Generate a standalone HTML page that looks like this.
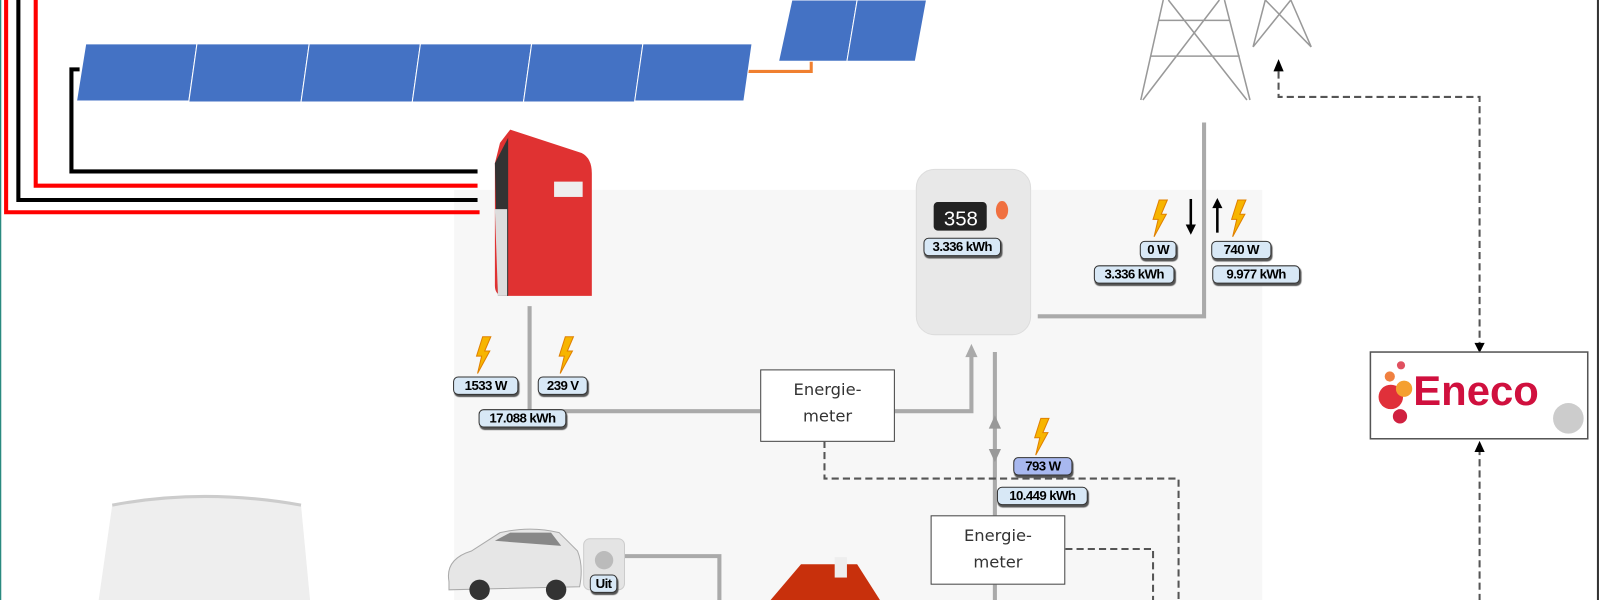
<!DOCTYPE html>
<html><head><meta charset="utf-8"><style>
body{margin:0;width:1600px;height:600px;overflow:hidden;background:#fff;font-family:"Liberation Sans",sans-serif}
#w{position:absolute;left:0;top:0;width:1568px;height:588px;transform:scale(1.0204);transform-origin:0 0}
svg{position:absolute;left:0;top:0}
.b{position:absolute;background:#d8e8f6;border:1.5px solid #333;border-radius:5px;box-shadow:1px 2px 1px #555;font:bold 13px "Liberation Sans",sans-serif;text-align:center;line-height:16px;height:16px;letter-spacing:-0.6px}
.em{position:absolute;background:#fff;border:1.5px solid #444;font:16px "DejaVu Sans",sans-serif;color:#333;text-align:center;line-height:26px;box-sizing:border-box;padding-top:6px}
</style></head><body><div id="w">
<svg width="1568" height="588" viewBox="0 0 1568 588">
<rect x="445" y="186" width="792" height="414" fill="#f7f7f7"/>
<line x1="0.5" y1="0" x2="0.5" y2="600" stroke="#2a8a80" stroke-width="1.5"/>
<line x1="1566" y1="0" x2="1566" y2="600" stroke="#333" stroke-width="2"/>
<path d="M78,68H70V168H468" fill="none" stroke="#000" stroke-width="4"/>
<path d="M35,0V182H468" fill="none" stroke="#f00" stroke-width="4"/>
<path d="M18,0V196H468" fill="none" stroke="#000" stroke-width="4"/>
<path d="M6,0V208H470" fill="none" stroke="#f00" stroke-width="4"/>
<path d="M730,70H795V58" fill="none" stroke="#f08030" stroke-width="3"/>
<g fill="#4472c4" stroke="#fff" stroke-width="1">
<path d="M84,43H193L185,99H75z"/>
<path d="M193,43H303L295,100H185z"/>
<path d="M303,43H412L404,100H295z"/>
<path d="M412,43H521L513,100H404z"/>
<path d="M521,43H630L622,100H513z"/>
<path d="M630,43H737L729,99H622z"/>
<path d="M776,0H840L830,60H763z"/>
<path d="M840,0H908L897,60H830z"/>
</g>
<path d="M490,140L500,127L570,150Q580,155 580,170V290H495Q485,290 485,280V160z" fill="#e03232"/>
<path d="M485,160L498,135V290H488z" fill="#333"/>
<path d="M485,205H497V290H488z" fill="#ddd"/>
<rect x="543" y="178" width="28" height="15" fill="#eee"/>
<rect x="898" y="166" width="112" height="162" rx="18" fill="#e8e8e8" stroke="#ddd"/>
<rect x="915" y="198" width="52" height="28" rx="4" fill="#222"/>
<text x="925" y="221" fill="#fff" font-size="20" font-family="Liberation Sans">358</text>
<ellipse cx="982" cy="206" rx="6" ry="9" fill="#f07040"/>
<g stroke="#999" stroke-width="1.5" fill="none">
<path d="M1140,0L1118,98M1200,0L1225,98M1145,0L1222,98M1195,0L1120,98M1127,55H1215M1135,20H1205"/>
<path d="M1240,0L1228,46M1265,0L1285,46M1240,0L1285,46M1265,0L1228,46"/>
</g>
<g fill="none" stroke="#aaa" stroke-width="4">
<path d="M1180,120V310H1017"/>
<path d="M519,300V403H745"/>
<path d="M877,403H952V348"/>
<path d="M975,345V600"/>
<path d="M612,545H705V600"/>
</g>
<path d="M946,350L952,337L958,350z" fill="#aaa"/>
<path d="M969,420L975,407L981,420z" fill="#999"/>
<path d="M969,440L975,453L981,440z" fill="#999"/>
<g fill="none" stroke="#555" stroke-width="2" stroke-dasharray="7,4">
<path d="M1253,70V95H1450V336"/>
<path d="M1450,600V442"/>
<path d="M808,432V469H1155V600"/>
<path d="M1044,538H1130V600"/>
</g>
<path d="M1248,70L1253,58L1258,70z" fill="#000"/>
<path d="M1445,336L1450,346L1455,336z" fill="#000"/>
<path d="M1445,443L1450,432L1455,443z" fill="#000"/>
<rect x="1343" y="345" width="213" height="85" fill="#fff" stroke="#555" stroke-width="1.5"/>
<circle cx="1363" cy="389" r="12" fill="#e0303a"/><circle cx="1376" cy="381" r="8" fill="#f5a030"/>
<circle cx="1372" cy="408" r="7" fill="#d02040"/><circle cx="1362" cy="369" r="5" fill="#f08040"/><circle cx="1373" cy="358" r="4" fill="#e05060"/>
<text x="1385" y="397" font-size="41" font-weight="bold" fill="#d0103e" font-family="Liberation Sans">Eneco</text>
<circle cx="1537" cy="410" r="15" fill="#ccc"/>
<g fill="#f7b500" stroke="#e08000" stroke-width="1">
<path transform="translate(465,330)" d="M8,0L16,0L10,14L15,14L3,36L7,19L2,19z"/>
<path transform="translate(546,330)" d="M8,0L16,0L10,14L15,14L3,36L7,19L2,19z"/>
<path transform="translate(1128,196)" d="M8,0L16,0L10,14L15,14L3,36L7,19L2,19z"/>
<path transform="translate(1205,196)" d="M8,0L16,0L10,14L15,14L3,36L7,19L2,19z"/>
<path transform="translate(1012,410)" d="M8,0L16,0L10,14L15,14L3,36L7,19L2,19z"/>
</g>
<path d="M1167,195V224" stroke="#000" stroke-width="2.5"/><path d="M1162,220L1167,230L1172,220z"/>
<path d="M1193,228V200" stroke="#000" stroke-width="2.5"/><path d="M1188,204L1193,194L1198,204z"/>
<path d="M440,570Q436,548 462,540L490,522Q520,515 548,522L566,540Q572,555 568,575L440,578z" fill="#e6e6e6" stroke="#aaa"/>
<circle cx="470" cy="578" r="10" fill="#333"/><circle cx="545" cy="578" r="10" fill="#333"/>
<path d="M485,530L500,522H540L550,535z" fill="#888"/>
<rect x="572" y="528" width="40" height="50" rx="6" fill="#e4e4e4" stroke="#ccc"/>
<circle cx="592" cy="549" r="9" fill="#bbb"/>
<path d="M745,600L785,553H840L870,600z" fill="#c8300c"/>
<rect x="818" y="546" width="12" height="20" fill="#eee"/>
<path d="M110,495Q200,478 295,495L305,600H95z" fill="#eeeeee"/>
<path d="M110,495Q200,478 295,495" fill="none" stroke="#ccc" stroke-width="3"/>
</svg>
<div class="b" style="left:444px;top:369px;width:62px">1533 W</div>
<div class="b" style="left:527px;top:369px;width:47px">239 V</div>
<div class="b" style="left:469px;top:401px;width:84px">17.088 kWh</div>
<div class="b" style="left:905px;top:233px;width:74px">3.336 kWh</div>
<div class="b" style="left:1117px;top:236px;width:34px">0 W</div>
<div class="b" style="left:1072px;top:260px;width:77px">3.336 kWh</div>
<div class="b" style="left:1187px;top:236px;width:57px">740 W</div>
<div class="b" style="left:1188px;top:260px;width:84px">9.977 kWh</div>
<div class="b" style="left:993px;top:448px;width:56px;background:#a8b8ef">793 W</div>
<div class="b" style="left:977px;top:477px;width:87px">10.449 kWh</div>
<div class="b" style="left:578px;top:563px;width:25px">Uit</div>
<div class="em" style="left:745px;top:362px;width:132px;height:71px">Energie-<br>meter</div>
<div class="em" style="left:912px;top:505px;width:132px;height:68px">Energie-<br>meter</div>
</div></body></html>
